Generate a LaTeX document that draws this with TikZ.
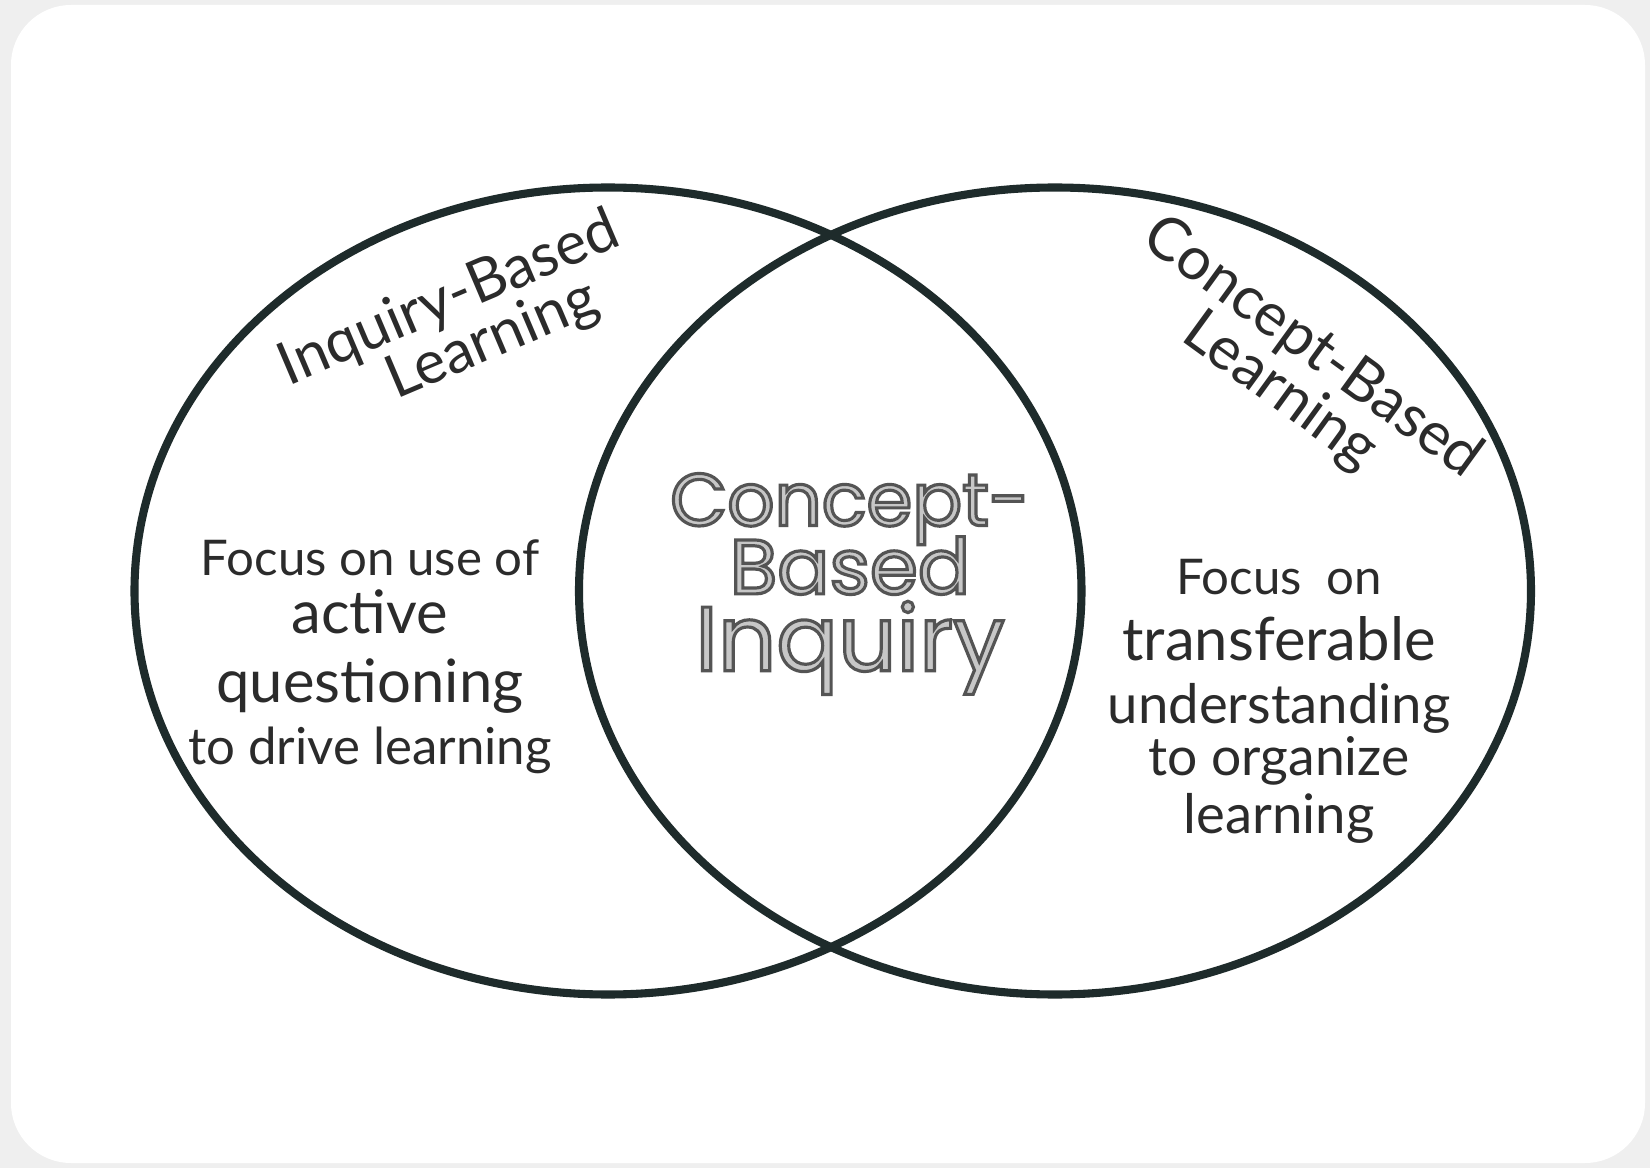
\documentclass[tikz,border=0pt]{standalone}
\usepackage{fontspec}
\setmainfont{Lato}
\newfontfamily\roundfont{Poppins}
\usetikzlibrary{shapes.geometric}
\definecolor{setline}{HTML}{1E2B2B}
\definecolor{inkgray}{HTML}{2B2B2B}
\definecolor{pagegray}{HTML}{EFEFEF}
\newcommand{\hollowtext}[1]{{\color{black!22}\special{pdf:literal direct 2 Tr 0.9 w 0.33 G}#1\special{pdf:literal direct 0 Tr}}}

\begin{document}
\begin{tikzpicture}[set/.style={draw=setline, line width=2.3pt, ellipse,
      minimum width=9.47cm, minimum height=8.07cm},
    title/.style={text=inkgray, align=center, font=\fontsize{17}{15.5}\selectfont},
    body/.style={text=inkgray, align=center}]
  \fill[pagegray] (0,0) rectangle (16.5,11.68);
  \fill[white, rounded corners=0.6cm] (0.11,0.05) rectangle (16.45,11.63);
  \node[set] (ibl) at (6.08,5.77) {};
  \node[set, minimum width=9.52cm] (cbl) at (10.55,5.77) {};
  \node[title, rotate=23] (ibltitle) at (4.60,8.43) {Inquiry-Based\\\hspace*{0.8em}Learning};
  \node[title, rotate=-36] (cbltitle) at (12.96,7.98) {Concept-Based\\Learning};
  \node[body, font=\fontsize{14}{16}\selectfont] (ibltext) at (3.70,5.11)
    {Focus on use of\\[0.4pt]
     \fontsize{17}{16}\selectfont active\\[3.6pt]
     \fontsize{17}{16}\selectfont questioning\\[1.9pt]
     \fontsize{14.5}{16}\selectfont to drive learning};
  \node[body, font=\fontsize{14}{14.7}\selectfont] (cbltext) at (12.79,4.67)
    {Focus\enspace on\\[4.3pt]
     \fontsize{17}{14.7}\selectfont transferable\\[3.2pt]
     \fontsize{15.5}{14.7}\selectfont understanding\\
     \fontsize{15.2}{14.7}\selectfont to organize\\[1.7pt]
     \fontsize{15.5}{14.7}\selectfont learning};
  \node[align=center, font=\roundfont\fontsize{21}{19.6}\selectfont] (cbi) at (8.50,5.84)
    {\hollowtext{Concept-}\\[-3.3pt]
     \fontsize{22}{19.6}\selectfont\hollowtext{Based}\\[0.9pt]
     \fontsize{26}{19.6}\selectfont\hollowtext{Inquiry}};
\end{tikzpicture}
\end{document}
